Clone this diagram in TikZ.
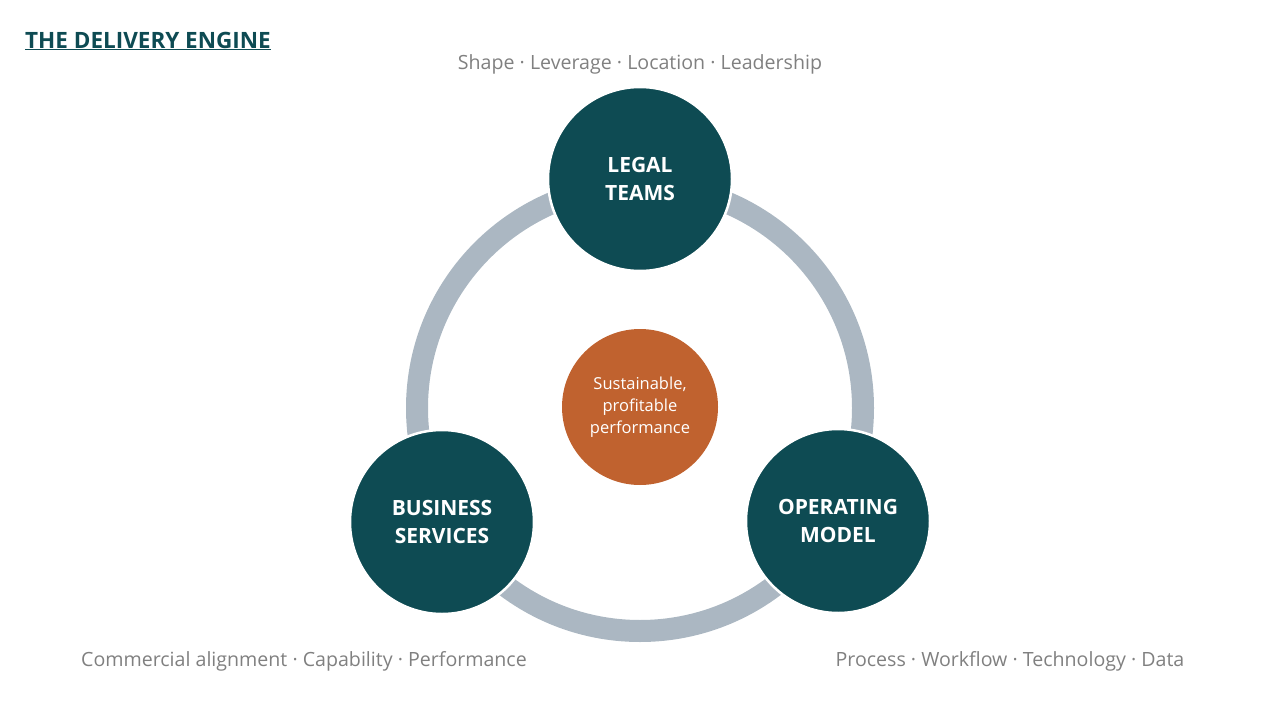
\documentclass[tikz,border=0pt]{standalone}
\usepackage{fontspec}
\setmainfont{Open Sans}
\usetikzlibrary{positioning}
\definecolor{deepteal}{HTML}{0E4B53}
\definecolor{rust}{HTML}{C0622F}
\definecolor{ringgray}{HTML}{ABB7C2}
\definecolor{notegray}{HTML}{808080}
\tikzset{
	pillar/.style={circle, fill=deepteal, draw=white, line width=2.5pt, minimum size=184pt, inner sep=0pt,
		text=white, align=center, font=\fontsize{21}{28}\selectfont\bfseries},
	core/.style={circle, fill=rust, minimum size=156pt, inner sep=0pt,
		text=white, align=center, font=\fontsize{16.5}{22}\selectfont},
	note/.style={text=notegray, inner sep=0pt, font=\fontsize{19.6}{22}\selectfont}
}

\begin{document}
\begin{tikzpicture}[x=1pt, y=-1pt]
		\useasboundingbox (0,0) rectangle (1280,720);
		% the ring behind the three circles
		\draw[ringgray, line width=22pt] (640,408) circle (223);

		\node[core] (perf) at (640,407) {Sustainable,\\profitable\\performance};
		\node[pillar] (legal) at (640,179) {LEGAL\\TEAMS};
		\node[pillar] (business) at (442,522) {BUSINESS\\SERVICES};
		\node[pillar] (operating) at (838,521) {OPERATING\\MODEL};

		\node[note] (legalnote) at (640,64) {Shape · Leverage · Location · Leadership};
		\node[note] (businessnote) at (304,661) {Commercial alignment · Capability · Performance};
		\node[note] (operatingnote) at (1010,661) {Process · Workflow · Technology · Data};

		\node[anchor=west, inner sep=0pt, text=deepteal, font=\fontsize{22.5}{26}\selectfont\bfseries] (title) at (25,41) {\underline{THE DELIVERY ENGINE}};
\end{tikzpicture}
\end{document}
